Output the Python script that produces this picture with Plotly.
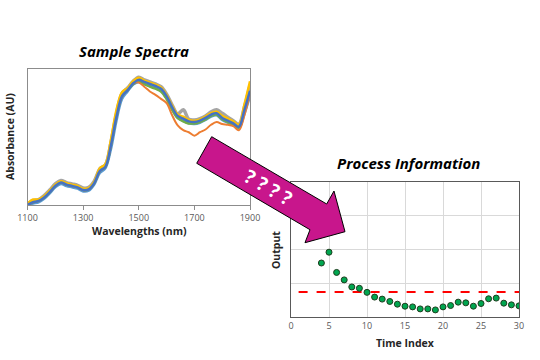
import plotly.graph_objects as go

# ---------------- data ----------------
wavelengths = list(range(1100, 1901, 20))

spec_blue = [0.00, 0.02, 0.03, 0.055, 0.095, 0.14, 0.165, 0.15, 0.14, 0.13, 0.11, 0.115, 0.16, 0.25, 0.28, 0.44,
             0.65, 0.80, 0.845, 0.895, 0.92, 0.905, 0.89, 0.875, 0.855, 0.80, 0.72, 0.655, 0.635, 0.615, 0.61,
             0.62, 0.64, 0.665, 0.675, 0.64, 0.62, 0.60, 0.576, 0.70, 0.84]
spec_yellow = [0.01, 0.04, 0.04, 0.065, 0.105, 0.15, 0.175, 0.16, 0.15, 0.14, 0.12, 0.125, 0.17, 0.27, 0.30, 0.48,
               0.70, 0.83, 0.86, 0.91, 0.935, 0.915, 0.90, 0.885, 0.865, 0.81, 0.73, 0.665, 0.65, 0.625, 0.62,
               0.63, 0.65, 0.675, 0.685, 0.655, 0.635, 0.615, 0.59, 0.74, 0.91]
spec_gray = [0.01, 0.03, 0.04, 0.07, 0.11, 0.155, 0.18, 0.165, 0.155, 0.145, 0.125, 0.13, 0.175, 0.265, 0.295, 0.46,
             0.67, 0.82, 0.86, 0.91, 0.94, 0.92, 0.905, 0.89, 0.87, 0.815, 0.735, 0.67, 0.70, 0.63, 0.625,
             0.635, 0.655, 0.685, 0.70, 0.675, 0.645, 0.62, 0.595, 0.72, 0.88]
spec_lightblue = [-0.005, 0.01, 0.02, 0.045, 0.085, 0.13, 0.155, 0.14, 0.13, 0.12, 0.10, 0.105, 0.15, 0.235, 0.27,
                  0.41, 0.62, 0.78, 0.835, 0.885, 0.905, 0.89, 0.875, 0.86, 0.84, 0.785, 0.705, 0.64, 0.62, 0.60,
                  0.595, 0.605, 0.625, 0.65, 0.66, 0.625, 0.605, 0.585, 0.565, 0.67, 0.80]
spec_green = [0.0, 0.02, 0.03, 0.055, 0.095, 0.14, 0.165, 0.15, 0.14, 0.13, 0.11, 0.115, 0.16, 0.25, 0.28, 0.44,
              0.65, 0.80, 0.845, 0.89, 0.91, 0.89, 0.87, 0.855, 0.835, 0.78, 0.70, 0.64, 0.615, 0.60, 0.60,
              0.61, 0.63, 0.655, 0.665, 0.63, 0.61, 0.59, 0.57, 0.69, 0.83]
spec_orange = [0.00, 0.02, 0.03, 0.055, 0.095, 0.14, 0.165, 0.15, 0.14, 0.13, 0.11, 0.115, 0.16, 0.25, 0.28, 0.44,
               0.65, 0.80, 0.845, 0.895, 0.90, 0.87, 0.835, 0.81, 0.78, 0.75, 0.66, 0.585, 0.55, 0.535, 0.51,
               0.535, 0.555, 0.59, 0.61, 0.595, 0.59, 0.58, 0.55, 0.66, 0.82]

time_index = list(range(4, 31))
output = [1.60, 1.92, 1.32, 1.10, 0.89, 0.85, 0.73, 0.59, 0.53, 0.46, 0.38, 0.32, 0.30, 0.24, 0.24, 0.21,
          0.30, 0.34, 0.44, 0.42, 0.32, 0.40, 0.54, 0.56, 0.41, 0.36, 0.33]
target_x = [1, 30]
target_y = [0.74, 0.74]

spectra_ticks = [1100, 1300, 1500, 1700, 1900]
time_ticks = [0, 5, 10, 15, 20, 25, 30]

# ---------------- figure ----------------
fig = go.Figure()

series = [
    (spec_gray, "#A5A5A5", 3.5),
    (spec_lightblue, "#5B9BD5", 2.5),
    (spec_green, "#70AD47", 2.5),
    (spec_orange, "#ED7D31", 2.0),
    (spec_yellow, "#FFC000", 2.5),
    (spec_blue, "#4472C4", 2.5),
]
for ys, col, w in series:
    fig.add_trace(go.Scatter(x=wavelengths, y=ys, mode="lines", line=dict(color=col, width=w, shape="spline"),
                             xaxis="x", yaxis="y", showlegend=False, hoverinfo="skip"))

fig.add_trace(go.Scatter(x=target_x, y=target_y, mode="lines", line=dict(color="#FF0000", width=2, dash="dash"),
                         xaxis="x2", yaxis="y2", showlegend=False))
fig.add_trace(go.Scatter(x=time_index, y=output, mode="markers",
                         marker=dict(color="#00A650", size=6, line=dict(color="#1E3D1E", width=1)),
                         xaxis="x2", yaxis="y2", showlegend=False))

W, H = 540, 360
def px(x):
    return x / W
def py(y):
    return 1 - y / H

tickfont = dict(family="Open Sans, Arial", size=9, color="#595959")

fig.update_layout(
    width=W, height=H, margin=dict(l=0, r=0, t=0, b=0, autoexpand=False),
    paper_bgcolor="white", plot_bgcolor="white",
    xaxis=dict(domain=[px(27.5), px(250)], range=[1100, 1900], tickvals=spectra_ticks, automargin=False,
               showgrid=False, zeroline=False, showline=True, linecolor="#8C8C8C", linewidth=1, mirror=True,
               ticks="outside", ticklen=4, tickcolor="#8C8C8C", tickfont=tickfont, anchor="y"),
    yaxis=dict(domain=[py(205), py(69)], range=[0, 1.0], showticklabels=False, showgrid=False, automargin=False,
               zeroline=False, showline=True, linecolor="#8C8C8C", linewidth=1, mirror=True, anchor="x"),
    xaxis2=dict(domain=[px(291), px(519)], range=[0, 30], tickvals=time_ticks, automargin=False,
                showgrid=True, gridcolor="#D9D9D9", gridwidth=1, zeroline=False, showline=True,
                linecolor="#595959", linewidth=1, mirror=True, ticks="", tickfont=tickfont, anchor="y2"),
    yaxis2=dict(domain=[py(317), py(182)], range=[0, 4], tickvals=[1, 2, 3], showticklabels=False,
                automargin=False,
                showgrid=True, gridcolor="#D9D9D9", gridwidth=1, zeroline=False, showline=True,
                linecolor="#595959", linewidth=1, mirror=True, anchor="x2"),
)

titlefont = dict(family="Open Sans, Arial", size=15, color="black")
labelfont = dict(family="Open Sans, Arial", size=10.5, color="#262626")

annotations = [
    dict(text="<b><i>Sample Spectra</i></b>", x=px(134), y=py(51), font=titlefont),
    dict(text="<b><i>Process Information</i></b>", x=px(408), y=py(163), font=titlefont),
    dict(text="<b>Wavelengths (nm)</b>", x=px(139), y=py(231), font=labelfont),
    dict(text="<b>Absorbance (AU)</b>", x=px(10), y=py(137), font=labelfont, textangle=-90),
    dict(text="<b>Time Index</b>", x=px(405), y=py(343), font=labelfont),
    dict(text="<b>Output</b>", x=px(276), y=py(250), font=labelfont, textangle=-90),
]
for a in annotations:
    a.update(xref="paper", yref="paper", showarrow=False, xanchor="center", yanchor="middle")
    fig.add_annotation(**a)

# arrow (decoration) in pixel positions
arrow_pts = [(211.7, 136.7), (326.7, 204.0), (334.0, 191.0), (345.0, 231.7), (305.0, 242.7),
             (310.0, 229.7), (196.7, 163.3)]
path = "M " + " L ".join(f"{px(x):.4f},{py(y):.4f}" for x, y in arrow_pts) + " Z"
fig.add_shape(type="path", path=path, xref="paper", yref="paper", fillcolor="#C8168C",
              line=dict(color="black", width=1), layer="above")
fig.add_annotation(text="<b>? ? ? ?</b>", x=px(268), y=py(187), xref="paper", yref="paper", showarrow=False,
                   textangle=30, font=dict(family="Open Sans, Arial", size=19, color="white"))

fig.write_html("out.html", config={"displayModeBar": False},
               post_script="document.body.style.margin='0';document.body.style.overflow='hidden';")
